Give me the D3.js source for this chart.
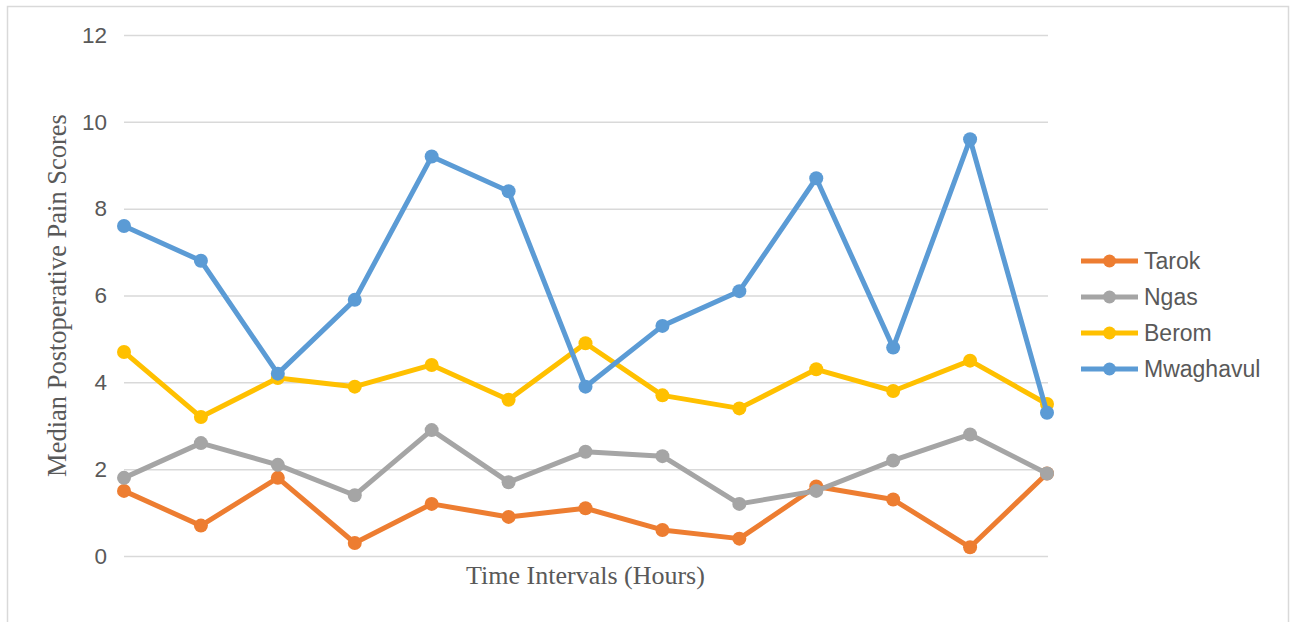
<!DOCTYPE html>
<html>
<head>
<meta charset="utf-8">
<script src="https://cdn.jsdelivr.net/npm/d3@7/dist/d3.min.js"></script>
<style>
  html, body { margin: 0; padding: 0; background: #ffffff; }
  svg { display: block; }
</style>
</head>
<body>
<script>
// Time intervals (13 measurement points, unlabeled on the axis)
const intervals = [1, 2, 3, 4, 5, 6, 7, 8, 9, 10, 11, 12, 13];

// Median postoperative pain scores per ethnic group
const tarok     = [1.5, 0.7, 1.8, 0.3, 1.2, 0.9, 1.1, 0.6, 0.4, 1.6, 1.3, 0.2, 1.9];
const ngas      = [1.8, 2.6, 2.1, 1.4, 2.9, 1.7, 2.4, 2.3, 1.2, 1.5, 2.2, 2.8, 1.9];
const berom     = [4.7, 3.2, 4.1, 3.9, 4.4, 3.6, 4.9, 3.7, 3.4, 4.3, 3.8, 4.5, 3.5];
const mwaghavul = [7.6, 6.8, 4.2, 5.9, 9.2, 8.4, 3.9, 5.3, 6.1, 8.7, 4.8, 9.6, 3.3];

const seriesNames  = ["Tarok", "Ngas", "Berom", "Mwaghavul"];
const seriesColors = ["#ED7D31", "#A5A5A5", "#FFC000", "#5B9BD5"];
const yTicks = [0, 2, 4, 6, 8, 10, 12];

const seriesList = [tarok, ngas, berom, mwaghavul].map((vals, i) => ({
  name: seriesNames[i],
  color: seriesColors[i],
  values: vals.map((v, j) => ({ t: intervals[j], v }))
}));

const W = 1296, H = 622;
const sansFont = "'Liberation Sans', Arial, Helvetica, sans-serif";
const serifFont = "'Liberation Serif', 'Times New Roman', serif";
const textColor = "#595959";

const svg = d3.select("body").append("svg").attr("width", W).attr("height", H);

// Outer chart frame
svg.append("rect")
  .attr("x", 7.5).attr("y", 6.5)
  .attr("width", 1281).attr("height", 640)
  .attr("fill", "#fff").attr("stroke", "#d9d9d9").attr("stroke-width", 1.5);

const plot = { left: 124, right: 1047, top: 35, bottom: 556 };

const x = d3.scalePoint().domain(intervals).range([plot.left, plot.right]).padding(0);
const y = d3.scaleLinear().domain([0, 12]).range([plot.bottom, plot.top]);

// Horizontal gridlines + y tick labels via the axis generator
const yAxis = d3.axisLeft(y).tickValues(yTicks).tickSize(-(plot.right - plot.left + 1)).tickPadding(17);
const gy = svg.append("g").attr("transform", `translate(${plot.left},0)`).call(yAxis);
gy.select(".domain").remove();
gy.selectAll(".tick line").attr("stroke", "#d9d9d9").attr("stroke-width", 1.5);
gy.selectAll(".tick text")
  .attr("fill", textColor)
  .style("font-family", sansFont)
  .style("font-size", "22.5px");

// Axis titles
svg.append("text")
  .attr("transform", `translate(66,${(plot.top + plot.bottom) / 2}) rotate(-90)`)
  .attr("text-anchor", "middle")
  .attr("fill", textColor)
  .style("font-family", serifFont)
  .style("font-size", "26.5px")
  .text("Median Postoperative Pain Scores");

svg.append("text")
  .attr("x", (plot.left + plot.right) / 2)
  .attr("y", 584)
  .attr("text-anchor", "middle")
  .attr("fill", textColor)
  .style("font-family", serifFont)
  .style("font-size", "26px")
  .text("Time Intervals (Hours)");

// Series lines and markers
const line = d3.line().x(d => x(d.t)).y(d => y(d.v));

const gSeries = svg.append("g")
  .selectAll("g")
  .data(seriesList)
  .join("g");

gSeries.append("path")
  .attr("d", d => line(d.values))
  .attr("fill", "none")
  .attr("stroke", d => d.color)
  .attr("stroke-width", 5)
  .attr("stroke-linejoin", "round");

gSeries.selectAll("circle")
  .data(d => d.values.map(p => ({ ...p, color: d.color })))
  .join("circle")
  .attr("cx", d => x(d.t))
  .attr("cy", d => y(d.v))
  .attr("r", 7)
  .attr("fill", d => d.color);

// Legend
const legendY = d3.scalePoint().domain(seriesNames).range([261, 369]);
const legend = svg.append("g")
  .selectAll("g")
  .data(seriesList)
  .join("g")
  .attr("transform", d => `translate(1081,${legendY(d.name)})`);

legend.append("line")
  .attr("x1", 0).attr("x2", 57).attr("y1", 0).attr("y2", 0)
  .attr("stroke", d => d.color).attr("stroke-width", 5);
legend.append("circle")
  .attr("cx", 28.5).attr("cy", 0).attr("r", 6.5)
  .attr("fill", d => d.color);
legend.append("text")
  .attr("x", 63).attr("y", 0).attr("dy", "0.36em")
  .attr("fill", textColor)
  .style("font-family", sansFont)
  .style("font-size", "23px")
  .text(d => d.name);
</script>
</body>
</html>
